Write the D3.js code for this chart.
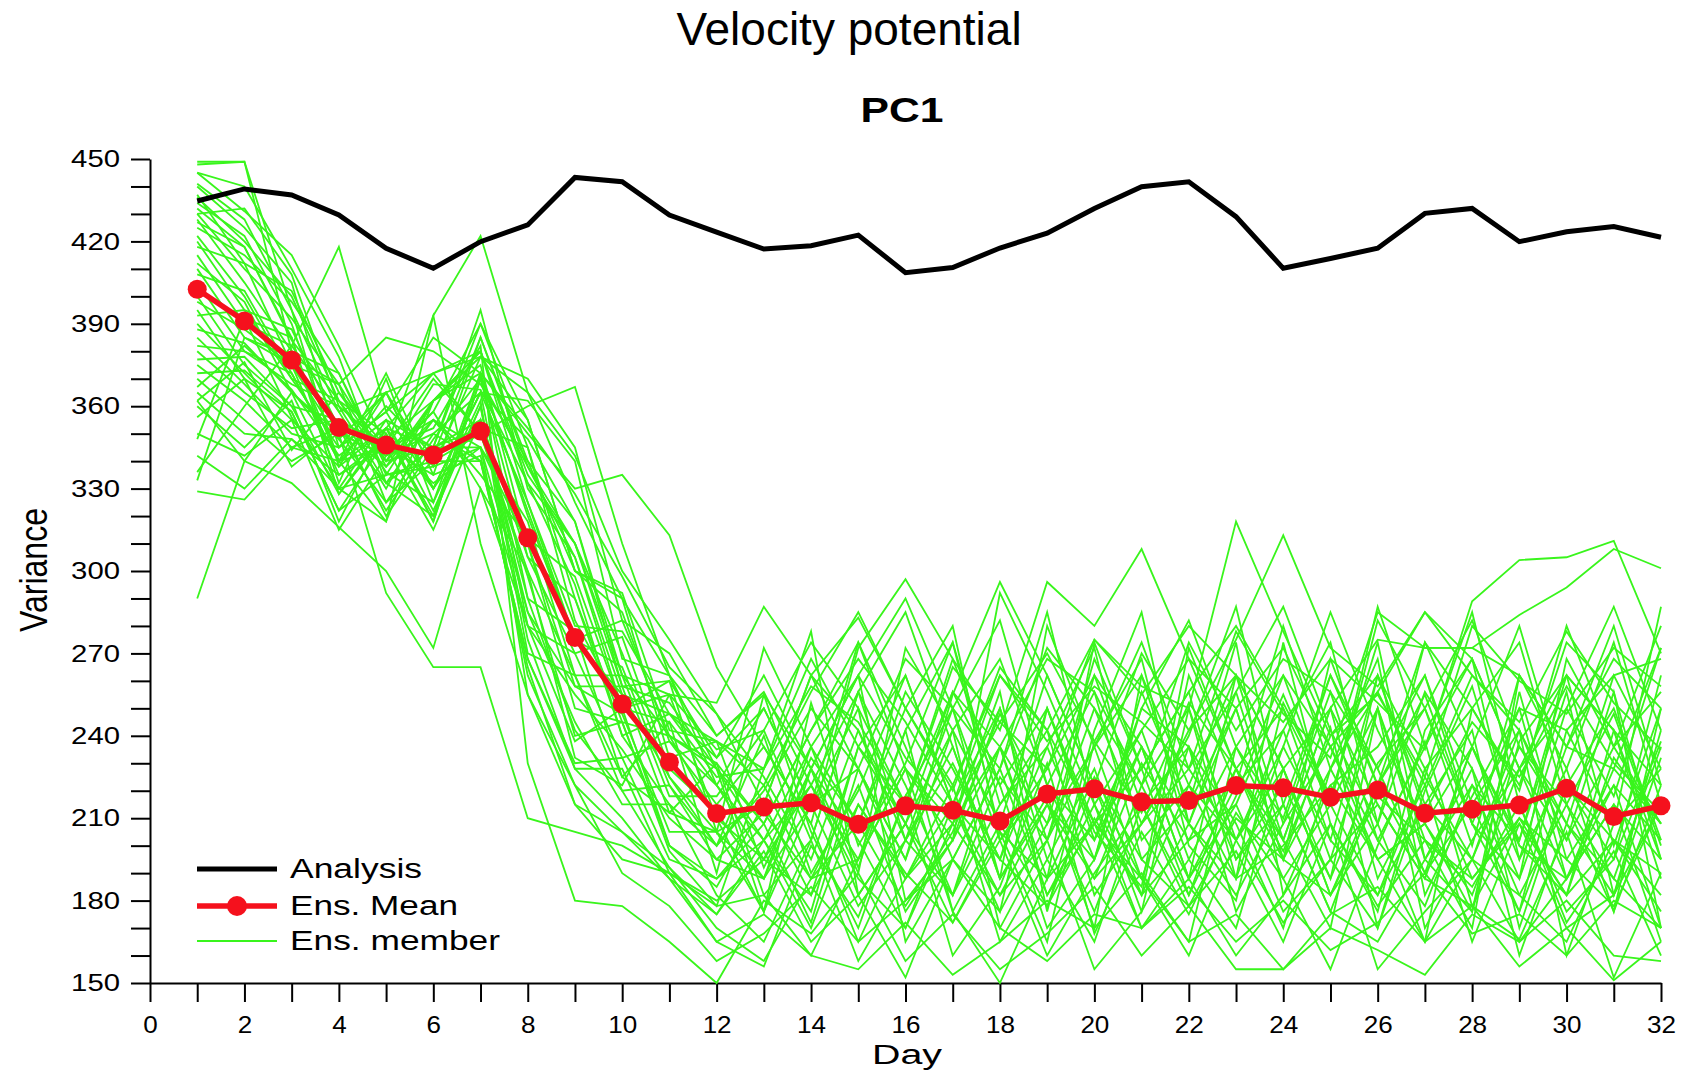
<!DOCTYPE html>
<html lang="en">
<head>
  <meta charset="UTF-8">
  <title>Velocity potential - PC1</title>
  <script src="https://d3js.org/d3.v7.min.js"></script>
  <style>
    body { margin: 0; background: #fff; }
    svg text { font-family: "Liberation Sans", Arial, Helvetica, sans-serif; fill: #000; }
  </style>
</head>
<body>
  <svg id="chart" width="1684" height="1075"></svg>

  <script>
    // x categories (forecast day) and axis ticks
    const days = [1, 2, 3, 4, 5, 6, 7, 8, 9, 10, 11, 12, 13, 14, 15, 16,
                  17, 18, 19, 20, 21, 22, 23, 24, 25, 26, 27, 28, 29, 30, 31, 32];
    const xTicks = [0, 1, 2, 3, 4, 5, 6, 7, 8, 9, 10, 11, 12, 13, 14, 15, 16,
                    17, 18, 19, 20, 21, 22, 23, 24, 25, 26, 27, 28, 29, 30, 31, 32];
    const yTicks = [150, 160, 170, 180, 190, 200, 210, 220, 230, 240, 250, 260, 270, 280, 290, 300,
                    310, 320, 330, 340, 350, 360, 370, 380, 390, 400, 410, 420, 430, 440, 450];

    // black line
    const analysis = [434.7, 439.1, 436.9, 429.6, 417.5, 410.2, 419.9, 426.0, 443.3, 441.7, 429.6, 423.4,
                      417.2, 418.4, 422.3, 408.6, 410.5, 417.6, 423.0, 432.0, 439.9, 441.7, 429.0, 410.2,
                      413.8, 417.5, 430.2, 432.0, 419.9, 423.5, 425.4, 421.5];

    // red line with dots
    const ensMean = [402.6, 391.0, 376.8, 352.2, 345.9, 342.2, 351.0, 312.1, 275.8, 251.6, 230.5, 211.7,
                     214.1, 215.6, 207.8, 214.5, 212.9, 209.0, 218.8, 220.7, 216.0, 216.4, 221.9, 221.1,
                     217.6, 220.3, 211.8, 213.3, 214.8, 220.9, 210.6, 214.5];

    // green lines, one row per member, days 1..32
    const members = [
      [448,449,380,372,335,362,380, 335,310,270,225,200, 240,190,220,262,215,176,250,205,185,272,228,195,243,170,220,258,200,182,232,208],
      [449,449,395,338,352,318,370, 322,275,282,240,228, 176,252,200,230,274,205,165,238,268,200,180,252,218,274,195,176,238,262,200,250],
      [445,431,415,382,345,370,350, 300,262,225,245,190, 255,205,170,218,250,282,222,188,208,240,287,215,176,222,255,208,188,236,280,222],
      [440,425,405,345,365,338,378, 355,300,290,232,238, 192,228,262,180,202,236,188,274,228,182,218,262,236,195,165,250,274,215,188,236],
      [436,420,400,362,340,358,390, 345,282,250,260,205, 272,236,192,242,176,208,262,222,176,250,202,236,285,242,208,182,228,202,256,170],
      [432,418,385,332,370,325,372, 290,278,225,212,230, 182,202,256,285,236,188,218,170,262,222,188,274,208,176,242,268,195,250,218,272],
      [430,410,392,368,325,350,340, 280,238,250,200,185, 215,262,228,188,208,256,176,242,285,208,250,195,228,268,182,218,250,188,222,202],
      [428,405,380,340,352,330,365, 362,340,268,262,222, 202,176,236,215,268,222,250,202,236,188,262,228,182,222,274,236,202,262,242,188],
      [425,415,398,372,338,355,345, 310,250,245,198,178, 228,278,182,208,242,170,202,262,215,236,176,208,256,202,236,285,215,176,195,262],
      [422,400,370,345,358,372,380, 332,295,240,248,232, 250,215,274,236,195,228,285,215,182,262,222,242,195,250,202,170,262,228,274,215],
      [420,395,388,352,322,348,370, 305,270,276,228,212, 188,236,208,250,280,202,222,256,195,215,274,182,222,236,262,215,176,242,208,287],
      [418,412,375,348,365,330,355, 290,242,220,192,170, 158,188,222,176,202,250,195,165,215,182,228,202,170,250,195,228,160,208,188,170],
      [415,390,382,358,330,362,372, 352,328,298,265,248, 215,262,242,202,250,188,280,236,262,208,256,287,242,208,274,250,220,280,236,256],
      [412,398,365,330,355,322,360, 275,228,210,188,165, 156,200,174,218,160,185,230,168,205,175,212,188,155,200,238,178,166,205,152,190],
      [410,385,378,368,340,345,345, 318,262,262,218,218, 242,202,256,222,182,236,208,268,228,256,195,215,262,228,190,236,280,222,250,202],
      [408,402,372,340,360,342,385, 340,318,258,260,232, 262,228,190,272,242,268,222,202,250,282,236,262,215,282,250,200,262,236,228,272],
      [405,380,368,360,332,355,340, 268,230,232,195,188, 208,172,228,195,242,208,178,222,188,165,236,202,250,188,222,165,208,182,242,195],
      [402,392,385,328,352,345,395, 330,305,255,248,225, 228,268,236,262,215,250,202,236,274,228,202,242,274,208,256,228,188,268,236,208],
      [400,375,360,355,345,315,355, 285,258,248,205,205, 176,215,250,165,195,228,182,208,242,195,170,228,188,262,215,195,242,160,208,228],
      [398,388,375,335,348,362,380, 325,275,265,222,200, 222,188,208,256,228,195,236,272,202,222,262,208,236,202,178,222,202,256,182,242],
      [395,370,358,322,335,338,345, 262,222,205,188,175, 198,165,182,208,172,202,160,190,215,178,198,165,208,178,202,185,215,172,198,160],
      [393,395,370,362,350,318,370, 338,310,258,252,228, 208,242,274,228,202,292,256,215,242,268,228,250,215,287,236,268,228,250,287,242],
      [390,372,355,338,365,372,378, 370,345,282,270,240, 256,222,195,242,274,215,236,195,256,215,250,195,268,222,250,282,236,208,262,228],
      [388,383,365,348,325,340,350, 298,240,245,200,188, 202,170,215,188,222,165,195,228,182,202,215,176,195,170,228,188,208,170,182,215],
      [385,368,350,345,358,330,365, 280,270,232,238,215, 236,208,165,202,236,188,215,176,222,250,188,236,202,182,215,242,170,222,202,182],
      [382,380,372,340,345,355,335, 312,298,250,255,210, 176,228,202,170,208,236,182,215,170,195,228,188,215,250,170,202,228,188,228,208],
      [380,365,352,355,320,345,390, 355,300,292,242,238, 222,256,285,250,222,262,242,208,228,256,280,250,202,262,228,250,222,274,256,195],
      [377,378,360,328,350,320,360, 270,262,220,222,195, 188,228,182,152,195,176,208,236,188,160,202,228,182,208,165,195,182,215,176,222],
      [375,362,345,352,338,362,375, 310,258,258,212,205, 215,182,236,208,256,222,170,195,250,236,208,170,228,195,208,176,256,195,222,170],
      [372,373,358,322,348,332,345, 285,245,215,215,182, 165,202,158,188,215,182,202,155,176,208,182,215,176,165,195,222,182,165,202,176],
      [370,355,340,350,342,350,365, 348,318,262,255,235, 242,274,250,215,256,236,268,256,222,274,242,268,256,228,262,208,250,242,262,268],
      [367,382,366,342,355,345,355, 305,290,245,240,210, 195,222,256,202,182,215,242,182,208,228,256,202,250,215,188,236,195,228,176,250],
      [365,350,348,330,335,340,340, 268,228,228,190,178, 182,160,195,228,176,150,188,208,170,188,160,182,208,155,176,195,165,188,215,165],
      [362,376,344,365,345,335,385, 338,305,250,245,222, 250,215,228,268,250,202,228,262,236,188,222,280,228,256,222,262,242,202,236,280],
      [360,345,362,318,352,372,350, 360,367,310,262,228, 202,236,262,290,250,228,272,250,208,242,262,228,250,275,272,272,262,236,268,250],
      [356,370,338,352,332,320,372, 350,330,335,313,265, 236,208,272,297,268,242,296,280,308,268,250,272,236,256,285,268,228,262,242,222],
      [350,342,355,315,342,358,330, 300,232,222,255,252, 287,262,283,250,220,265,242,275,258,250,318,278,240,255,225,280,260,248,272,258],
      [445,440,410,378,332,345,352, 345,290,240,215,200, 220,250,228,195,255,296,262,222,270,242,275,313,272,258,285,262,245,278,252,235],
      [441,428,395,358,365,330,365, 325,280,278,248,238, 228,258,245,215,265,245,228,275,255,280,262,245,268,252,235,289,304,305,311,270],
      [437,412,402,365,340,368,366, 332,310,262,240,230, 208,242,268,245,215,262,238,258,245,228,278,248,232,285,272,272,284,294,308,301],
      [434,422,390,340,372,335,342, 265,215,195,190,165, 175,160,155,172,153,165,180,170,190,165,175,155,175,185,165,178,156,170,151,165],
      [430,432,408,360,345,352,382, 230,180,178,165,150, 180,168,190,158,175,155,168,185,160,178,155,155,170,162,153,175,165,180,160,158],
      [427,418,384,362,336,325,362, 255,222,190,178,158, 168,185,165,180,195,170,158,175,170,185,165,180,162,172,190,168,175,160,180,170],
      [333,385,375,368,385,380,368, 340,300,285,238,222, 195,232,208,178,205,248,215,188,230,202,236,210,262,222,190,215,242,208,182,232],
      [329,326,345,340,318,362,378, 365,342,300,275,248, 225,195,242,208,182,225,202,250,222,188,215,255,215,182,225,195,236,215,248,200],
      [336,360,382,418,358,385,372, 320,275,255,225,205, 188,215,178,202,230,195,250,208,188,236,195,222,188,230,250,208,176,222,195,238],
      [290,340,365,350,292,265,265, 210,205,200,190,180, 195,182,215,190,172,205,188,225,195,178,210,195,182,218,202,188,210,182,202,190],
      [348,392,356,330,318,393,422, 365,325,290,262,240, 255,228,262,232,212,245,270,238,212,252,228,198,240,262,212,245,225,258,230,212],
      [362,340,332,316,300,272,330, 280,255,235,210,195, 212,188,195,228,208,182,215,195,236,208,188,200,222,195,208,236,200,188,215,195],
      [342,330,348,335,345,393,310, 255,215,205,192,175, 202,222,188,170,215,195,178,210,182,222,202,172,195,215,188,178,210,195,178,215]
    ];

    const legendLabels = ["Analysis", "Ens. Mean", "Ens. member"];

    const green = "#39f51c";
    const red = "#f5111d";

    const svg = d3.select("#chart");

    const x = d3.scaleLinear().domain([0, 32]).range([150, 1661]);
    const y = d3.scaleLinear().domain([150, 450]).range([983, 159]);

    // stretch text to the measured widths of the reference
    function fitText(sel, perChar) {
      sel.each(function () {
        const s = this.textContent;
        if (s) d3.select(this).attr("textLength", s.length * perChar).attr("lengthAdjust", "spacingAndGlyphs");
      });
    }

    // titles
    svg.append("text")
      .attr("x", 849).attr("y", 45)
      .attr("text-anchor", "middle")
      .style("font-size", "46px")
      .text("Velocity potential");

    svg.append("text")
      .attr("x", 902).attr("y", 122)
      .attr("text-anchor", "middle")
      .style("font-size", "35px").style("font-weight", "bold")
      .attr("textLength", 83).attr("lengthAdjust", "spacingAndGlyphs")
      .text("PC1");

    // axes
    const yAxis = d3.axisLeft(y)
      .tickValues(yTicks)
      .tickSize(19).tickSizeOuter(0).tickPadding(11)
      .tickFormat(d => d % 30 === 0 ? d : "");

    const gy = svg.append("g")
      .attr("transform", "translate(150,0)")
      .call(yAxis);
    gy.selectAll("line, path").attr("stroke", "#000").attr("stroke-width", 2);
    gy.selectAll("text").style("font-size", "24px").attr("fill", "#000").call(fitText, 16.3);

    const xAxis = d3.axisBottom(x)
      .tickValues(xTicks)
      .tickSize(19).tickSizeOuter(0).tickPadding(14)
      .tickFormat(d => d % 2 === 0 ? d : "");

    const gx = svg.append("g")
      .attr("transform", "translate(0,983)")
      .call(xAxis);
    gx.selectAll("line, path").attr("stroke", "#000").attr("stroke-width", 2);
    gx.selectAll("text").style("font-size", "24px").attr("fill", "#000").call(fitText, 14.5);

    svg.append("text")
      .attr("x", 907).attr("y", 1064)
      .attr("text-anchor", "middle")
      .style("font-size", "27px")
      .attr("textLength", 70).attr("lengthAdjust", "spacingAndGlyphs")
      .text("Day");

    svg.append("text")
      .attr("transform", "translate(47,570) scale(1.5,1) rotate(-90)")
      .attr("text-anchor", "middle")
      .style("font-size", "26px")
      .attr("textLength", 124).attr("lengthAdjust", "spacingAndGlyphs")
      .text("Variance");

    // plot
    svg.append("clipPath").attr("id", "plotClip")
      .append("rect").attr("x", 150).attr("y", 150).attr("width", 1520).attr("height", 835);

    const plot = svg.append("g").attr("clip-path", "url(#plotClip)");

    const line = d3.line()
      .x((d, i) => x(days[i]))
      .y(d => y(d));

    plot.selectAll("path.member")
      .data(members)
      .join("path")
      .attr("class", "member")
      .attr("d", line)
      .attr("fill", "none")
      .attr("stroke", green)
      .attr("stroke-width", 1.8)
      .attr("stroke-linejoin", "miter");

    plot.append("path")
      .datum(analysis)
      .attr("d", line)
      .attr("fill", "none")
      .attr("stroke", "#000")
      .attr("stroke-width", 5)
      .attr("stroke-linejoin", "miter");

    plot.append("path")
      .datum(ensMean)
      .attr("d", line)
      .attr("fill", "none")
      .attr("stroke", red)
      .attr("stroke-width", 5.5);

    svg.append("g").selectAll("circle")
      .data(ensMean)
      .join("circle")
      .attr("cx", (d, i) => x(days[i]))
      .attr("cy", d => y(d))
      .attr("r", 9.5)
      .attr("fill", red);

    // legend
    const legend = svg.append("g");
    const legY = [869, 906, 941];
    const legW = [132, 168, 210];

    legend.append("line").attr("x1", 197).attr("x2", 277).attr("y1", legY[0]).attr("y2", legY[0])
      .attr("stroke", "#000").attr("stroke-width", 5);
    legend.append("line").attr("x1", 197).attr("x2", 277).attr("y1", legY[1]).attr("y2", legY[1])
      .attr("stroke", red).attr("stroke-width", 5.5);
    legend.append("circle").attr("cx", 237).attr("cy", legY[1]).attr("r", 10).attr("fill", red);
    legend.append("line").attr("x1", 197).attr("x2", 277).attr("y1", legY[2]).attr("y2", legY[2])
      .attr("stroke", green).attr("stroke-width", 2);

    legend.selectAll("text")
      .data(legendLabels)
      .join("text")
      .attr("x", 290)
      .attr("y", (d, i) => legY[i] + 9)
      .style("font-size", "27px")
      .attr("textLength", (d, i) => legW[i])
      .attr("lengthAdjust", "spacingAndGlyphs")
      .text(d => d);
  </script>
</body>
</html>
